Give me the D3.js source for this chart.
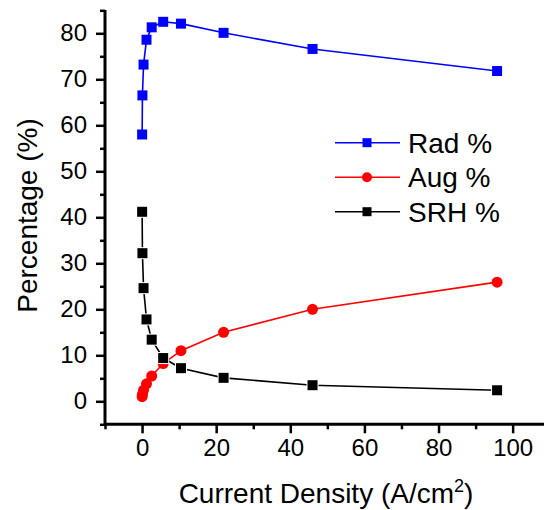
<!DOCTYPE html>
<html>
<head>
<meta charset="utf-8">
<script src="https://cdn.jsdelivr.net/npm/d3@7"></script>
<style>
  body { margin: 0; background: #fff; }
  svg { display: block; }
</style>
</head>
<body>
<div id="vis"></div>
<script>
// ---- data ----
var density = [0.02, 0.1, 0.4, 1.2, 2.6, 5.7, 10.5, 22, 46, 95.8];
var radPct  = [58.0, 66.5, 73.2, 78.6, 81.3, 82.5, 82.1, 80.1, 76.6, 71.8];
var augPct  = [1.0, 1.5, 2.4, 3.8, 5.5, 8.2, 11.0, 15.0, 20.0, 25.9];
var srhPct  = [41.2, 32.2, 24.6, 17.8, 13.4, 9.4, 7.2, 5.1, 3.5, 2.4];
var seriesNames = ["Rad %", "Aug %", "SRH %"];
var xMajor = [0, 20, 40, 60, 80, 100];
var xMinor = [-10, 10, 30, 50, 70, 90, 110];
var yMajor = [0, 10, 20, 30, 40, 50, 60, 70, 80];
var yMinor = [-5, 5, 15, 25, 35, 45, 55, 65, 75, 85];

var width = 544, height = 510;
var font = "Arial, 'Liberation Sans', sans-serif";

var svg = d3.select("#vis").append("svg")
  .attr("width", width).attr("height", height)
  .style("font-family", font);

svg.append("rect").attr("width", width).attr("height", height).attr("fill", "#fff");

var x = d3.scaleLinear().domain([-10, 110]).range([105, 549.7]);
var y = d3.scaleLinear().domain([-5, 85]).range([424.3, 10.3]);

// axes: minor ticks first, then major with labels
function styleAxis(g) {
  g.select(".domain").remove();
  g.selectAll("line").attr("stroke", "#000").attr("stroke-width", 2.5);
  g.selectAll("text").attr("fill", "#000").style("font-family", font).style("font-size", "24px");
}

svg.append("g").attr("transform", "translate(0,424.3)")
  .call(d3.axisBottom(x).tickValues(xMinor).tickSize(5).tickFormat(""))
  .call(styleAxis);
svg.append("g").attr("transform", "translate(0,424.3)")
  .call(d3.axisBottom(x).tickValues(xMajor).tickSize(9).tickPadding(6).tickFormat(d3.format("d")))
  .call(styleAxis);

svg.append("g").attr("transform", "translate(105,0)")
  .call(d3.axisLeft(y).tickValues(yMinor).tickSize(5).tickFormat(""))
  .call(styleAxis);
svg.append("g").attr("transform", "translate(105,0)")
  .call(d3.axisLeft(y).tickValues(yMajor).tickSize(9).tickPadding(9).tickFormat(d3.format("d")))
  .call(styleAxis);

// axis lines
svg.append("line").attr("x1", 105).attr("x2", 544).attr("y1", 424.3).attr("y2", 424.3)
  .attr("stroke", "#000").attr("stroke-width", 3);
svg.append("line").attr("x1", 105).attr("x2", 105).attr("y1", 10).attr("y2", 425.8)
  .attr("stroke", "#000").attr("stroke-width", 3);

// axis titles
var xt = svg.append("text")
  .attr("x", 326).attr("y", 503)
  .attr("text-anchor", "middle")
  .style("font-size", "28px");
xt.append("tspan").text("Current Density (A/cm");
xt.append("tspan").attr("dy", -11).style("font-size", "18px").text("2");
xt.append("tspan").attr("dy", 11).text(")");

svg.append("text")
  .attr("transform", "translate(37,215.5) rotate(-90)")
  .attr("text-anchor", "middle")
  .style("font-size", "28px")
  .text("Percentage (%)");

// series
var series = [
  {name: seriesNames[0], vals: radPct, color: "#0000ff", sym: "square", gap: false},
  {name: seriesNames[1], vals: augPct, color: "#ff0000", sym: "circle", gap: false},
  {name: seriesNames[2], vals: srhPct, color: "#000000", sym: "square", gap: true}
];

var line = d3.line().x(d => x(d[0])).y(d => y(d[1]));

series.forEach(function(s) {
  var pts = density.map((d, i) => [d, s.vals[i]]);
  var g = svg.append("g");
  g.append("path").attr("d", line(pts))
    .attr("fill", "none").attr("stroke", s.color).attr("stroke-width", 1.6);
  if (s.sym == "square") {
    g.selectAll("rect").data(pts).join("rect")
      .attr("x", d => x(d[0]) - 5).attr("y", d => y(d[1]) - 5)
      .attr("width", 10).attr("height", 10)
      .attr("fill", s.color)
      .attr("stroke", s.gap ? "#fff" : "none").attr("stroke-width", s.gap ? 2 : 0)
      .attr("paint-order", "stroke");
  } else {
    g.selectAll("circle").data(pts).join("circle")
      .attr("cx", d => x(d[0])).attr("cy", d => y(d[1]))
      .attr("r", 5.5).attr("fill", s.color);
  }
});

// legend
var legend = svg.append("g");
series.forEach(function(s, i) {
  var ly = 142.7 + i * 34.5;
  legend.append("line").attr("x1", 335).attr("x2", 400).attr("y1", ly).attr("y2", ly)
    .attr("stroke", s.color).attr("stroke-width", 1.6);
  if (s.sym == "square") {
    legend.append("rect").attr("x", 362.5).attr("y", ly - 4.5).attr("width", 9).attr("height", 9)
      .attr("fill", s.color);
  } else {
    legend.append("circle").attr("cx", 367).attr("cy", ly).attr("r", 5).attr("fill", s.color);
  }
  legend.append("text").attr("x", 408).attr("y", ly + 10)
    .style("font-size", "28px").text(s.name);
});
</script>
</body>
</html>
